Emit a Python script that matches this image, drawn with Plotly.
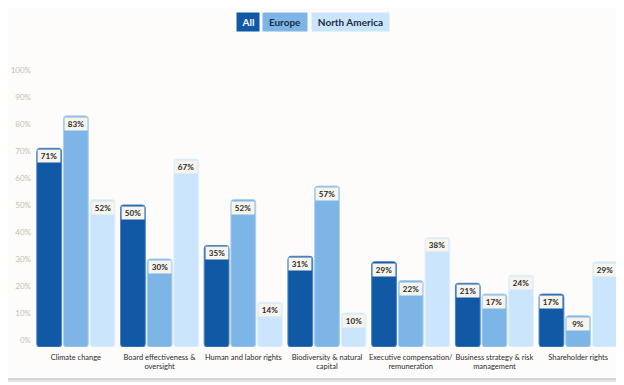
import plotly.graph_objects as go

categories = [
    "Climate change",
    "Board effectiveness &<br>oversight",
    "Human and labor rights",
    "Biodiversity & natural<br>capital",
    "Executive compensation/<br>remuneration",
    "Business strategy & risk<br>management",
    "Shareholder rights",
]
series_names = ["All", "Europe", "North America"]
all_vals = [71, 50, 35, 31, 29, 21, 17]
europe_vals = [83, 30, 52, 57, 22, 17, 9]
na_vals = [52, 67, 14, 10, 38, 24, 29]
y_ticks = [0, 10, 20, 30, 40, 50, 60, 70, 80, 90, 100]

colors = ["#1259a5", "#7db6e6", "#cbe6fc"]
outline = ["#4b86c6", "#a9cff1", "#e2f1fd"]
pill_text = ["#ffffff", "#1c2b44", "#1c2b44"]

# page body has an 8px margin: figure occupies window px 8..624 / 8..385
OFF = 8
W, H = 624 - OFF, 385 - OFF
ML, MR, MT, MB = 34 - OFF, 4, 60 - OFF, 38
PW, PH = W - ML - MR, H - MT - MB
Y_RANGE = [-2.6, 103.7]
BARGAP = 0.044
BARGROUPGAP = 0.07
FONT = "Lato"

fig = go.Figure()
series_vals = [all_vals, europe_vals, na_vals]
for name, vals, c, oc in zip(series_names, series_vals, colors, outline):
    fig.add_trace(go.Bar(
        x=categories, y=[v - Y_RANGE[0] for v in vals], name=name,
        marker=dict(color=c, line=dict(color=oc, width=1)),
        base=Y_RANGE[0],
        showlegend=False,
    ))

cat_px = PW / len(categories)
slot_px = cat_px * (1 - BARGAP) / 3
annotations = []
for j, vals in enumerate(series_vals):
    for cat, v in zip(categories, vals):
        annotations.append(dict(
            x=cat, y=v, xref="x", yref="y",
            text=f"<b>{v}%</b>", showarrow=False,
            xanchor="center", yanchor="top",
            xshift=(j - 1) * slot_px, yshift=-1,
            bgcolor="#f6f4ec", borderpad=1, width=20, height=10,
            font=dict(family=FONT, size=8, color="#2a2a2a"),
        ))

# window-pixel -> paper coordinate helpers
def px2x(px):
    return (px - OFF - ML) / PW

def px2y(py):
    return (MT + PH - (py - OFF)) / PH

# pill legend
pills = [(248, 22), (285, 44), (350.5, 77)]
for (cx, w), name, c, tc in zip(pills, series_names, colors, pill_text):
    annotations.append(dict(
        x=px2x(cx), y=px2y(21.5), xref="paper", yref="paper",
        text=f"<b>{name}</b>", showarrow=False, xanchor="center", yanchor="middle",
        bgcolor=c, width=w, height=18, borderpad=0,
        font=dict(family=FONT, size=10, color=tc),
    ))

shapes = [
    dict(type="rect", xref="paper", yref="paper", layer="below",
         x0=px2x(5), x1=px2x(620), y0=px2y(382), y1=px2y(4),
         fillcolor="#e6e6e6", line=dict(width=0)),
    dict(type="rect", xref="paper", yref="paper", layer="below",
         x0=px2x(6), x1=px2x(618), y0=px2y(380), y1=px2y(6),
         fillcolor="#d4d4d4", line=dict(width=0)),
    dict(type="rect", xref="paper", yref="paper", layer="below",
         x0=px2x(8), x1=px2x(616), y0=px2y(378), y1=px2y(8),
         fillcolor="#fdfcfa", line=dict(width=0)),
]

fig.update_layout(
    width=W, height=H, autosize=False,
    margin=dict(l=ML, r=MR, t=MT, b=MB, autoexpand=False),
    paper_bgcolor="#ffffff", plot_bgcolor="rgba(0,0,0,0)",
    barmode="group", bargap=BARGAP, bargroupgap=BARGROUPGAP,
    barcornerradius=3,
    annotations=annotations, shapes=shapes,
    font=dict(family=FONT),
    xaxis=dict(showgrid=False, showline=False, zeroline=False, ticks="",
               automargin=False,
               tickfont=dict(family=FONT, size=7.5, color="#2a2a2a"),
               ticklabelstandoff=4),
    yaxis=dict(range=Y_RANGE, showgrid=False, showline=False, zeroline=False,
               automargin=False,
               tickvals=y_ticks, ticktext=[f"{t}%" for t in y_ticks],
               tickfont=dict(family=FONT, size=8, color="#c6bcae"),
               ticks="", ticklabelstandoff=2),
)
fig.write_html("out.html")
